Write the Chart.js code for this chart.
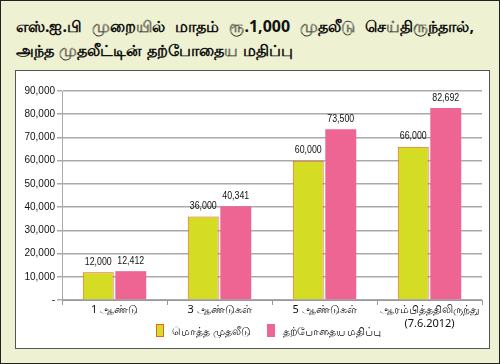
<!DOCTYPE html>
<html>
<head>
<meta charset="utf-8">
<script src="https://cdn.jsdelivr.net/npm/chart.js@4.4.0/dist/chart.umd.min.js"></script>
<style>
  body { margin: 0; }
  #page {
    position: relative;
    width: 498px; height: 362px;
    background: #eef2d2;
    border: 1px solid #222;
    font-family: "Noto Sans", "DejaVu Sans", sans-serif;
  }
  #title {
    position: absolute; left: 15px; top: 13px;
    font-weight: bold; font-size: 16px; line-height: 24px;
    color: #111; white-space: nowrap;
  }
  #title .l1 { word-spacing: 6px; }
  #title .l2 { word-spacing: 1px; }
  #panel {
    position: absolute; left: 14px; top: 69px;
    width: 473px; height: 277px;
    background: #fff;
    border: 1px solid #555;
  }
  #legend {
    position: absolute; left: 140px; top: 253px;
    white-space: nowrap; font-size: 10.5px; color: #111;
  }
  .item { display: inline-block; margin-right: 16px; }
  .box { display: inline-block; width: 6px; height: 11px; vertical-align: -2px; margin-right: 8px; }
</style>
</head>
<body>
<div id="page">
  <div id="title"><span class="l1">எஸ்.ஐ.பி முறையில் மாதம் ரூ.1,000 முதலீடு செய்திருந்தால்,</span><br><span class="l2">அந்த முதலீட்டின் தற்போதைய மதிப்பு</span></div>
  <div id="panel">
    <canvas id="sipChart" width="473" height="277"></canvas>
    <div id="legend"></div>
  </div>
</div>
<script>
// Categories and values
const categories = ["1 ஆண்டு", "3 ஆண்டுகள்", "5 ஆண்டுகள்", ["ஆரம்பித்ததிலிருந்து", "(7.6.2012)"]];
const investedValues = [12000, 36000, 60000, 66000];
const currentValues = [12412, 40341, 73500, 82692];
const seriesNames = ["மொத்த முதலீடு", "தற்போதைய மதிப்பு"];

const numFont = "'Liberation Sans', Arial, sans-serif";
const tamilFont = "'Noto Sans', 'DejaVu Sans', sans-serif";

// Small plugin to write the value above each bar (squeezed a bit, like a narrow font)
const barValueLabels = {
    id: "barValueLabels",
    afterDatasetsDraw(chart) {
        const ctx = chart.ctx;
        ctx.save();
        ctx.font = "10.5px " + numFont;
        ctx.fillStyle = "#111";
        ctx.textAlign = "center";
        ctx.textBaseline = "bottom";
        chart.data.datasets.forEach((ds, i) => {
            chart.getDatasetMeta(i).data.forEach((bar, j) => {
                ctx.save();
                ctx.translate(bar.x, bar.y - 5);
                ctx.scale(0.84, 1);
                ctx.fillText(ds.data[j].toLocaleString("en-US"), 0, 0);
                ctx.restore();
            });
        });
        ctx.restore();
    }
};

const ctx = document.getElementById("sipChart").getContext("2d");
const chart = new Chart(ctx, {
    type: "bar",
    data: {
        labels: categories,
        datasets: [
            {
                label: seriesNames[0],
                data: investedValues,
                backgroundColor: "#d5dc24",
                borderColor: "#e4622a",
                borderWidth: 1
            },
            {
                label: seriesNames[1],
                data: currentValues,
                backgroundColor: "#ee6492",
                borderColor: "#ee6492",
                borderWidth: 0
            }
        ]
    },
    options: {
        responsive: false,
        animation: false,
        layout: { padding: { top: 20, right: 7, left: 0, bottom: 0 } },
        datasets: {
            bar: { categoryPercentage: 0.62, barPercentage: 0.95 }
        },
        plugins: {
            tooltip: { enabled: false },
            legend: { display: false }
        },
        scales: {
            x: {
                offset: true,
                afterFit: scale => { scale.height = 48; },
                grid: {
                    offset: true,
                    drawOnChartArea: false,
                    drawTicks: true,
                    tickLength: 5,
                    color: "#999"
                },
                border: { color: "#999", width: 1 },
                ticks: {
                    color: "#111",
                    padding: -3,
                    maxRotation: 0,
                    autoSkip: false,
                    font: { family: tamilFont, size: 11, lineHeight: 1.35 }
                }
            },
            y: {
                min: 0,
                max: 90000,
                afterFit: scale => { scale.width = 46; },
                grid: { color: "#aaa", lineWidth: 1.5, tickLength: 5 },
                border: { color: "#aaa", width: 1 },
                ticks: {
                    stepSize: 10000,
                    color: "#111",
                    padding: 2,
                    font: { family: numFont, size: 10 },
                    callback: v => v === 0 ? "-" : v.toLocaleString("en-US")
                }
            }
        }
    },
    plugins: [barValueLabels]
});

// Legend as html under the chart, colours taken from the datasets
const legend = document.getElementById("legend");
chart.data.datasets.forEach(ds => {
    const item = document.createElement("span");
    item.className = "item";
    item.innerHTML = `<span class="box" style="background:${ds.backgroundColor};border:1px solid ${ds.borderColor}"></span>${ds.label}`;
    legend.appendChild(item);
});
</script>
</body>
</html>
